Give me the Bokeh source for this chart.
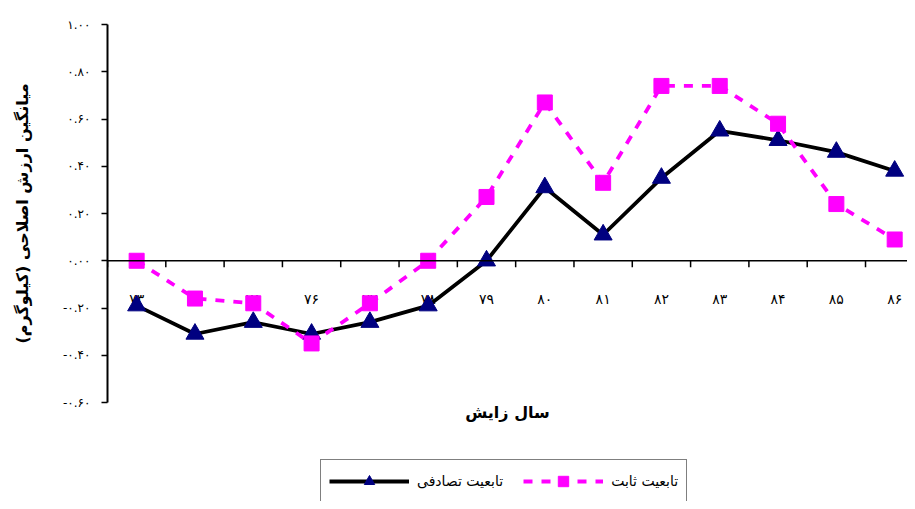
from bokeh.plotting import figure
from bokeh.layouts import column
from bokeh.models import (ColumnDataSource, Span, Legend, LegendItem, FixedTicker,
                          Range1d)
from bokeh.core.properties import value
from bokeh.embed import file_html
from bokeh.resources import INLINE

# ---- data ----
years = [73, 74, 75, 76, 77, 78, 79, 80, 81, 82, 83, 84, 85, 86]
x_labels = ["۷۳", "۷۴", "۷۵", "۷۶", "۷۷", "۷۸", "۷۹", "۸۰", "۸۱", "۸۲", "۸۳", "۸۴", "۸۵", "۸۶"]
random_effect = [-0.19, -0.31, -0.26, -0.31, -0.26, -0.19, 0.00, 0.31, 0.11, 0.35, 0.55, 0.51, 0.46, 0.38]
fixed_effect = [0.00, -0.16, -0.18, -0.35, -0.18, 0.00, 0.27, 0.67, 0.33, 0.74, 0.74, 0.58, 0.24, 0.09]
y_ticks = [-0.6, -0.4, -0.2, 0.0, 0.2, 0.4, 0.6, 0.8, 1.0]
y_tick_labels = ["-۰.۶۰", "-۰.۴۰", "-۰.۲۰", "۰.۰۰", "۰.۲۰", "۰.۴۰", "۰.۶۰", "۰.۸۰", "۱.۰۰"]
series_names = ["تابعیت تصادفی", "تابعیت ثابت"]
y_title = "میانگین ارزش اصلاحی (کیلوگرم)"
x_title = "سال زایش"

FONT = "DejaVu Sans"
W = 907

src = ColumnDataSource(dict(x=years, lab=x_labels, r=random_effect, f=fixed_effect,
                            zero=[0.0] * len(years)))
bounds = [y - 0.5 for y in years] + [years[-1] + 0.5]
bsrc = ColumnDataSource(dict(x=bounds, y0=[0.0] * len(bounds), y1=[-0.028] * len(bounds)))

p = figure(width=W, height=430, output_backend="svg", toolbar_location=None,
           x_range=Range1d(72.5, 86.22), y_range=Range1d(-0.6, 1.0),
           min_border_left=107, min_border_right=0, min_border_top=24, min_border_bottom=28)
p.outline_line_color = None
p.xgrid.visible = False
p.ygrid.visible = False
p.background_fill_color = "white"

# y axis
ya = p.yaxis[0]
ya.ticker = FixedTicker(ticks=y_ticks)
ya.major_label_overrides = {t: l for t, l in zip(y_ticks, y_tick_labels)}
ya.minor_tick_line_color = None
ya.major_tick_out = 6
ya.major_tick_in = 0
ya.axis_line_width = 2
ya.axis_line_color = "black"
ya.major_tick_line_width = 1.5
ya.major_tick_line_color = "black"
ya.major_label_text_font = FONT
ya.major_label_text_font_size = "12px"
ya.major_label_text_color = "black"
ya.major_label_standoff = 11
ya.axis_label = y_title
ya.axis_label_text_font = FONT
ya.axis_label_text_font_size = "16px"
ya.axis_label_text_font_style = "bold"
ya.axis_label_text_color = "black"
ya.axis_label_standoff = 28

# x axis (title only)
xa = p.xaxis[0]
xa.ticker = FixedTicker(ticks=[])
xa.axis_line_color = None
xa.major_tick_line_color = None
xa.minor_tick_line_color = None
xa.axis_label = x_title
xa.axis_label_text_font = FONT
xa.axis_label_text_font_size = "16px"
xa.axis_label_text_font_style = "bold"
xa.axis_label_text_color = "black"
xa.axis_label_standoff = 0

# zero line with category ticks
p.add_layout(Span(location=0, dimension="width", line_color="black", line_width=1.5))
p.segment(x0="x", y0="y0", x1="x", y1="y1", source=bsrc, line_color="black", line_width=1.5)
p.text(x="x", y="zero", text="lab", source=src, text_font=value(FONT), text_font_size="14px",
       text_align="center", text_baseline="middle", y_offset=38, text_color="black")

# series
line_r = dict(line_color="black", line_width=3.8)
mark_r = dict(marker="triangle", size=18, fill_color="#000080", line_color="#000080")
line_f = dict(line_color="#FF00FF", line_width=3.8, line_dash="9 9")
mark_f = dict(marker="square", size=15, fill_color="#FF00FF", line_color="#FF00FF")

p.line("x", "r", source=src, **line_r)
p.scatter("x", "r", source=src, **mark_r)
p.line("x", "f", source=src, **line_f)
p.scatter("x", "f", source=src, **mark_f)

# legend panel (series drawn out of view; only their legend samples show)
p2 = figure(width=W, height=71, output_backend="svg", toolbar_location=None,
            x_axis_type=None, y_axis_type=None, min_border=0,
            x_range=Range1d(0, 1), y_range=Range1d(0, 1))
p2.outline_line_color = None
p2.xgrid.visible = False
p2.ygrid.visible = False
l1 = p2.line("x", "r", source=src, **line_r)
m1 = p2.scatter("x", "r", source=src, **mark_r)
l2 = p2.line("x", "f", source=src, **line_f)
m2 = p2.scatter("x", "f", source=src, **mark_f)

legend = Legend(items=[LegendItem(label=series_names[0], renderers=[l1, m1]),
                       LegendItem(label=series_names[1], renderers=[l2, m2])],
                orientation="horizontal", location=(213, -2),
                glyph_width=80, glyph_height=26, label_standoff=8, spacing=20,
                padding=8, margin=0, border_line_color="black", border_line_width=1.5,
                label_text_font=FONT, label_text_font_size="14px", label_text_color="black",
                background_fill_color="white", background_fill_alpha=1.0)
p2.add_layout(legend, "center")

layout = column(p, p2, spacing=0)
open("out.html", "w").write(file_html(layout, INLINE))
